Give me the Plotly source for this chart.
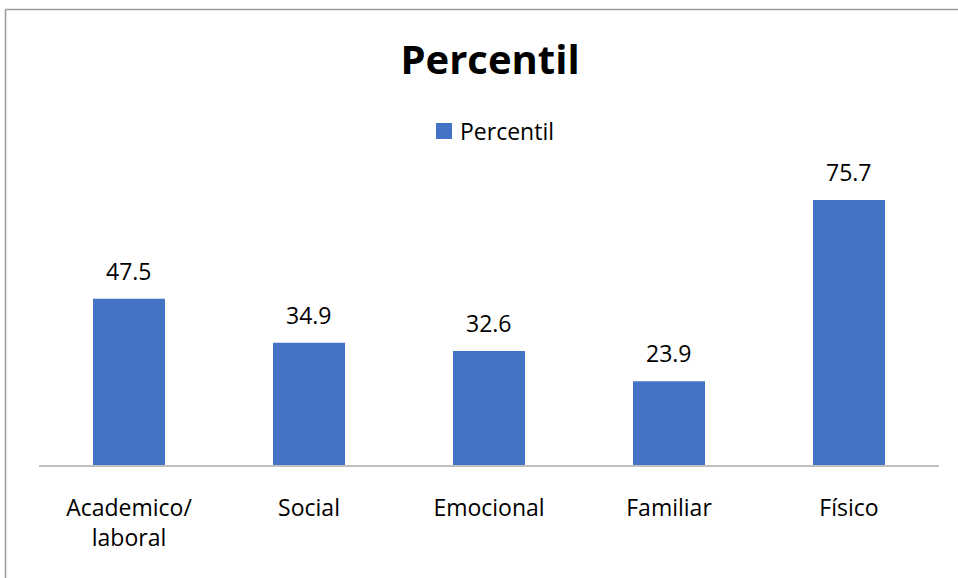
import plotly.graph_objects as go

categories = ["Academico/<br>laboral", "Social", "Emocional", "Familiar", "Físico"]
values = [47.5, 34.9, 32.6, 23.9, 75.7]
series_name = "Percentil"
chart_title = "Percentil"

W, H = 958, 578
ML, MR, MT, MB = 39, 19, 185, 113
plot_w = W - ML - MR
plot_h = H - MT - MB

def px_x(p):
    return (p - ML) / plot_w

def px_y(p):
    return (H - MB - p) / plot_h

bar_color = "#4472C4"
font_family = "'Open Sans', sans-serif"
text_size = 23

fig = go.Figure()
fig.add_trace(go.Bar(
    x=categories, y=values, name=series_name,
    marker=dict(color=bar_color, line=dict(width=0)),
    showlegend=False,
))

# value labels above each bar
for c, v in zip(categories, values):
    fig.add_annotation(
        x=c, y=v, text=f"{v}", showarrow=False,
        xref="x", yref="y", yanchor="bottom", yshift=10,
        font=dict(family=font_family, size=text_size, color="#000000"),
    )

# legend: colour key and series name
fig.add_shape(type="rect", xref="paper", yref="paper",
              x0=px_x(436), x1=px_x(452), y0=px_y(139), y1=px_y(123),
              fillcolor=bar_color, line=dict(width=0))
fig.add_annotation(x=px_x(458), y=px_y(131), xref="paper", yref="paper",
                   text=series_name, showarrow=False,
                   xanchor="left", yanchor="middle",
                   font=dict(family=font_family, size=text_size, color="#000000"))

# chart frame (top and left edges)
frame = dict(color="#9a9a9a", width=1.5)
fig.add_shape(type="line", xref="paper", yref="paper",
              x0=px_x(5.5), x1=px_x(960), y0=px_y(9.5), y1=px_y(9.5), line=frame)
fig.add_shape(type="line", xref="paper", yref="paper",
              x0=px_x(5.5), x1=px_x(5.5), y0=px_y(9.5), y1=px_y(580), line=frame)

fig.update_layout(
    width=W, height=H,
    margin=dict(l=ML, r=MR, t=MT, b=MB),
    paper_bgcolor="white", plot_bgcolor="white",
    bargap=0.6,
    showlegend=False,
    title=dict(text="<b>" + chart_title + "</b>", xref="container", x=490 / W,
               xanchor="center", yref="container", y=1 - 60 / H, yanchor="middle",
               font=dict(family=font_family, size=40, color="#000000")),
    font=dict(family=font_family, color="#000000"),
    xaxis=dict(showline=True, linecolor="#BFBFBF", linewidth=1.5,
               ticks="", showgrid=False, ticklabelstandoff=22,
               tickfont=dict(family=font_family, size=text_size, color="#000000")),
    yaxis=dict(range=[0, 80], visible=False, showgrid=False, zeroline=False),
)

fig.write_html("out.html")
